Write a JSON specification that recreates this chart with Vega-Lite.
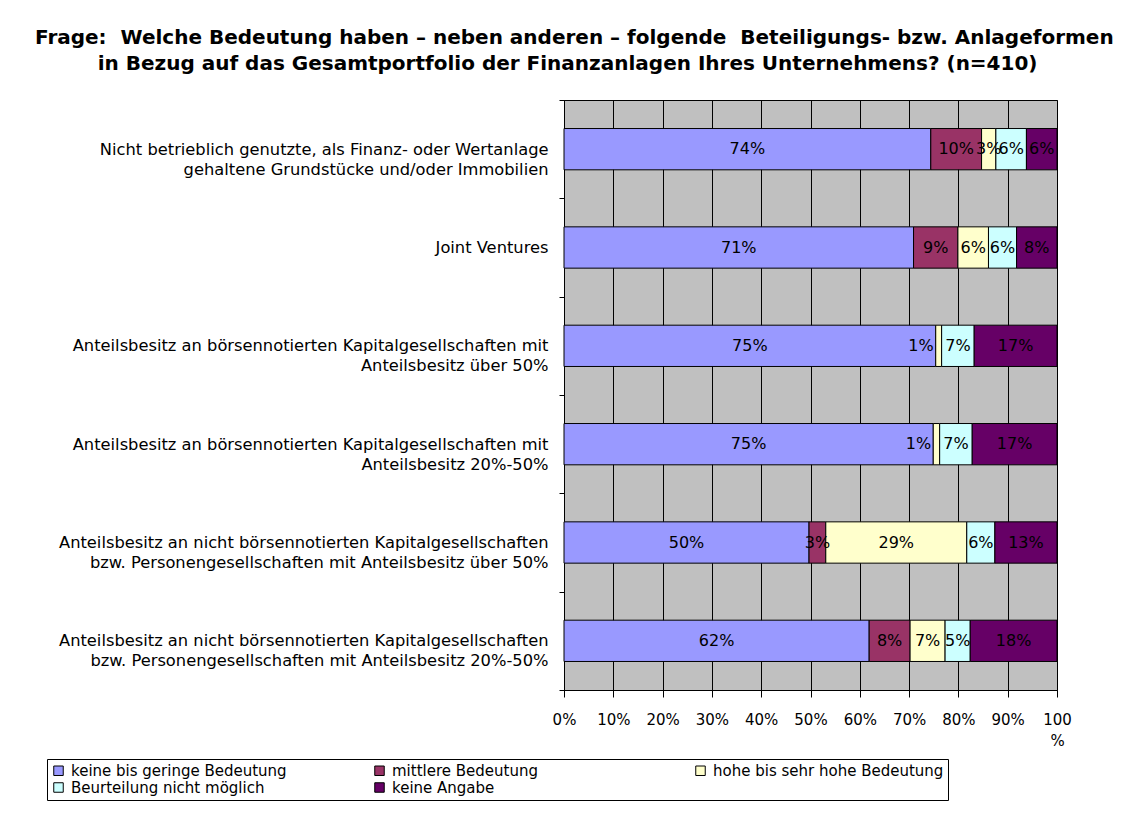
{
  "$schema": "https://vega.github.io/schema/vega-lite/v6.json",
  "autosize": {"type": "none"},
  "width": 493,
  "height": 590,
  "padding": {"left": 564, "top": 100, "right": 78, "bottom": 137},
  "background": "white",
  "title": {
    "text": ["Frage:\u00a0 Welche Bedeutung haben – neben anderen – folgende\u00a0 Beteiligungs- bzw. Anlageformen", "\u200b\u00a0\u00a0\u00a0\u00a0\u00a0\u00a0\u00a0\u00a0\u00a0in Bezug auf das Gesamtportfolio der Finanzanlagen Ihres Unternehmens? (n=410)"],
    "anchor": "start",
    "frame": "group",
    "dx": -529,
    "offset": 18,
    "font": "DejaVu Sans",
    "fontSize": 20,
    "fontWeight": "bold",
    "lineHeight": 26,
    "color": "black"
  },
  "data": {
    "values": [
      {"cat": "Nicht betrieblich genutzte, als Finanz- oder Wertanlage|gehaltene Grundstücke und/oder Immobilien", "series": "keine bis geringe Bedeutung", "o": 1, "v": 0.744},
      {"cat": "Nicht betrieblich genutzte, als Finanz- oder Wertanlage|gehaltene Grundstücke und/oder Immobilien", "series": "mittlere Bedeutung", "o": 2, "v": 0.103},
      {"cat": "Nicht betrieblich genutzte, als Finanz- oder Wertanlage|gehaltene Grundstücke und/oder Immobilien", "series": "hohe bis sehr hohe Bedeutung", "o": 3, "v": 0.029},
      {"cat": "Nicht betrieblich genutzte, als Finanz- oder Wertanlage|gehaltene Grundstücke und/oder Immobilien", "series": "Beurteilung nicht möglich", "o": 4, "v": 0.062},
      {"cat": "Nicht betrieblich genutzte, als Finanz- oder Wertanlage|gehaltene Grundstücke und/oder Immobilien", "series": "keine Angabe", "o": 5, "v": 0.062},
      {"cat": "Joint Ventures", "series": "keine bis geringe Bedeutung", "o": 1, "v": 0.709},
      {"cat": "Joint Ventures", "series": "mittlere Bedeutung", "o": 2, "v": 0.090},
      {"cat": "Joint Ventures", "series": "hohe bis sehr hohe Bedeutung", "o": 3, "v": 0.062},
      {"cat": "Joint Ventures", "series": "Beurteilung nicht möglich", "o": 4, "v": 0.057},
      {"cat": "Joint Ventures", "series": "keine Angabe", "o": 5, "v": 0.082},
      {"cat": "Anteilsbesitz an börsennotierten Kapitalgesellschaften mit|Anteilsbesitz über 50%", "series": "keine bis geringe Bedeutung", "o": 1, "v": 0.754},
      {"cat": "Anteilsbesitz an börsennotierten Kapitalgesellschaften mit|Anteilsbesitz über 50%", "series": "hohe bis sehr hohe Bedeutung", "o": 3, "v": 0.012},
      {"cat": "Anteilsbesitz an börsennotierten Kapitalgesellschaften mit|Anteilsbesitz über 50%", "series": "Beurteilung nicht möglich", "o": 4, "v": 0.066},
      {"cat": "Anteilsbesitz an börsennotierten Kapitalgesellschaften mit|Anteilsbesitz über 50%", "series": "keine Angabe", "o": 5, "v": 0.168},
      {"cat": "Anteilsbesitz an börsennotierten Kapitalgesellschaften mit|Anteilsbesitz 20%-50%", "series": "keine bis geringe Bedeutung", "o": 1, "v": 0.749},
      {"cat": "Anteilsbesitz an börsennotierten Kapitalgesellschaften mit|Anteilsbesitz 20%-50%", "series": "hohe bis sehr hohe Bedeutung", "o": 3, "v": 0.013},
      {"cat": "Anteilsbesitz an börsennotierten Kapitalgesellschaften mit|Anteilsbesitz 20%-50%", "series": "Beurteilung nicht möglich", "o": 4, "v": 0.066},
      {"cat": "Anteilsbesitz an börsennotierten Kapitalgesellschaften mit|Anteilsbesitz 20%-50%", "series": "keine Angabe", "o": 5, "v": 0.172},
      {"cat": "Anteilsbesitz an nicht börsennotierten Kapitalgesellschaften|bzw. Personengesellschaften mit Anteilsbesitz über 50%", "series": "keine bis geringe Bedeutung", "o": 1, "v": 0.497},
      {"cat": "Anteilsbesitz an nicht börsennotierten Kapitalgesellschaften|bzw. Personengesellschaften mit Anteilsbesitz über 50%", "series": "mittlere Bedeutung", "o": 2, "v": 0.034},
      {"cat": "Anteilsbesitz an nicht börsennotierten Kapitalgesellschaften|bzw. Personengesellschaften mit Anteilsbesitz über 50%", "series": "hohe bis sehr hohe Bedeutung", "o": 3, "v": 0.286},
      {"cat": "Anteilsbesitz an nicht börsennotierten Kapitalgesellschaften|bzw. Personengesellschaften mit Anteilsbesitz über 50%", "series": "Beurteilung nicht möglich", "o": 4, "v": 0.057},
      {"cat": "Anteilsbesitz an nicht börsennotierten Kapitalgesellschaften|bzw. Personengesellschaften mit Anteilsbesitz über 50%", "series": "keine Angabe", "o": 5, "v": 0.126},
      {"cat": "Anteilsbesitz an nicht börsennotierten Kapitalgesellschaften|bzw. Personengesellschaften mit Anteilsbesitz 20%-50%", "series": "keine bis geringe Bedeutung", "o": 1, "v": 0.619},
      {"cat": "Anteilsbesitz an nicht börsennotierten Kapitalgesellschaften|bzw. Personengesellschaften mit Anteilsbesitz 20%-50%", "series": "mittlere Bedeutung", "o": 2, "v": 0.083},
      {"cat": "Anteilsbesitz an nicht börsennotierten Kapitalgesellschaften|bzw. Personengesellschaften mit Anteilsbesitz 20%-50%", "series": "hohe bis sehr hohe Bedeutung", "o": 3, "v": 0.071},
      {"cat": "Anteilsbesitz an nicht börsennotierten Kapitalgesellschaften|bzw. Personengesellschaften mit Anteilsbesitz 20%-50%", "series": "Beurteilung nicht möglich", "o": 4, "v": 0.051},
      {"cat": "Anteilsbesitz an nicht börsennotierten Kapitalgesellschaften|bzw. Personengesellschaften mit Anteilsbesitz 20%-50%", "series": "keine Angabe", "o": 5, "v": 0.176}
    ]
  },
  "transform": [
    {"stack": "v", "groupby": ["cat"], "sort": [{"field": "o", "order": "ascending"}], "as": ["x0", "x1"]},
    {"calculate": "(datum.x0 + datum.x1) / 2", "as": "xm"}
  ],
  "encoding": {
    "y": {
      "field": "cat",
      "type": "nominal",
      "sort": null,
      "scale": {"paddingInner": 0, "paddingOuter": 0},
      "axis": {
        "title": null,
        "labelExpr": "split(datum.label, '|')",
        "labelFont": "DejaVu Sans",
        "labelFontSize": 16.3,
        "labelColor": "black",
        "labelLineHeight": 20,
        "labelAlign": "right",
        "labelLimit": 700,
        "labelPadding": 11,
        "tickBand": "extent",
        "tickSize": 5,
        "tickColor": "black",
        "domainColor": "black",
        "grid": false
      }
    }
  },
  "layer": [
    {
      "mark": {"type": "bar", "height": {"band": 0.42}, "stroke": "black", "strokeWidth": 1},
      "encoding": {
        "x": {
          "field": "x0",
          "type": "quantitative",
          "scale": {"domain": [0, 1], "nice": false},
          "axis": {
            "title": null,
            "values": [0, 0.1, 0.2, 0.3, 0.4, 0.5, 0.6, 0.7, 0.8, 0.9, 1],
            "format": ".0%",
            "labelExpr": "datum.value == 1 ? ['100', '%'] : datum.label",
            "labelFont": "DejaVu Sans",
            "labelFontSize": 15,
            "labelColor": "black",
            "labelLineHeight": 21,
            "labelPadding": 15,
            "labelFlush": false,
            "tickSize": 7,
            "tickColor": "black",
            "domainColor": "black",
            "grid": true,
            "gridColor": "black",
            "gridWidth": 1,
            "gridOpacity": 1
          }
        },
        "x2": {"field": "x1"},
        "color": {
          "field": "series",
          "type": "nominal",
          "scale": {
            "domain": ["keine bis geringe Bedeutung", "mittlere Bedeutung", "hohe bis sehr hohe Bedeutung", "Beurteilung nicht möglich", "keine Angabe"],
            "range": ["#9999FF", "#993366", "#FFFFCC", "#CCFFFF", "#660066"]
          },
          "legend": {
            "title": null,
            "orient": "none",
            "legendX": -517,
            "legendY": 659,
            "direction": "horizontal",
            "columns": 3,
            "gridAlign": "all",
            "columnPadding": 70,
            "rowPadding": 1,
            "symbolType": "square",
            "symbolSize": 90,
            "symbolStrokeColor": "black",
            "symbolStrokeWidth": 1,
            "symbolOpacity": 1,
            "labelFont": "DejaVu Sans",
            "labelFontSize": 15,
            "labelColor": "black",
            "labelOffset": 5,
            "labelLimit": 400,
            "strokeColor": "black",
            "padding": 4
          }
        }
      }
    },
    {
      "transform": [{"filter": "datum.v >= 0.02"}],
      "mark": {"type": "text", "font": "DejaVu Sans", "fontSize": 16, "color": "black", "baseline": "middle", "align": "center"},
      "encoding": {
        "x": {"field": "xm", "type": "quantitative"},
        "text": {"field": "v", "type": "quantitative", "format": ".0%"}
      }
    },
    {
      "transform": [{"filter": "datum.v < 0.02"}],
      "mark": {"type": "text", "font": "DejaVu Sans", "fontSize": 16, "color": "black", "baseline": "middle", "align": "right", "dx": -2},
      "encoding": {
        "x": {"field": "x0", "type": "quantitative"},
        "text": {"field": "v", "type": "quantitative", "format": ".0%"}
      }
    }
  ],
  "config": {
    "view": {"fill": "#C0C0C0", "stroke": "black", "strokeWidth": 1},
    "axis": {"domainWidth": 1, "tickWidth": 1}
  }
}
